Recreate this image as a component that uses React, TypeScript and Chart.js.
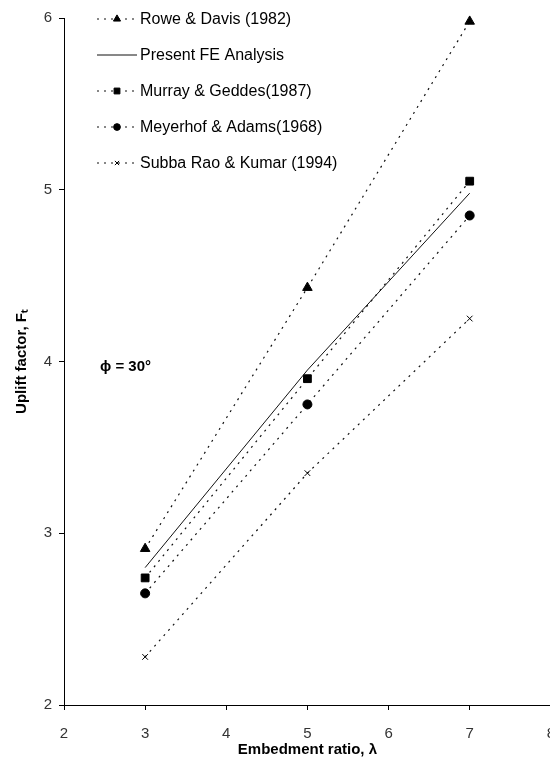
import React, { useEffect, useRef } from 'react';
import { Chart, registerables } from 'chart.js';
import { drawPoint } from 'chart.js/helpers';

Chart.register(...registerables);

const xValues = [3, 5, 7];
const seriesLabels = [
  'Rowe & Davis (1982)',
  'Present FE Analysis',
  'Murray & Geddes(1987)',
  'Meyerhof & Adams(1968)',
  'Subba Rao & Kumar (1994)',
];
const roweDavis = [2.91, 4.43, 5.98];
const presentFE = [2.8, 3.95, 4.98];
const murrayGeddes = [2.74, 3.9, 5.05];
const meyerhofAdams = [2.65, 3.75, 4.85];
const subbaRaoKumar = [2.28, 3.35, 4.25];
const xTickValues = [2, 3, 4, 5, 6, 7, 8];
const yTickValues = [2, 3, 4, 5, 6];
const phiLabel = 'ϕ = 30°';
const xTitle = 'Embedment ratio, λ';
const yTitle = 'Uplift factor, Fₜ';

const FONT = "'Liberation Sans', Arial, Helvetica, sans-serif";

export default function App() {
  const ref = useRef<HTMLCanvasElement>(null);

  useEffect(() => {
    document.body.style.margin = '0';
    const series = [roweDavis, presentFE, murrayGeddes, meyerhofAdams, subbaRaoKumar];
    const looks = [
      { pointStyle: 'triangle', radius: 5.5, dash: [2, 5], width: 1.2 },
      { pointStyle: false, radius: 0, dash: [], width: 1 },
      { pointStyle: 'rect', radius: 5.5, dash: [2, 5], width: 1.2 },
      { pointStyle: 'circle', radius: 4.5, dash: [2, 5], width: 1.2 },
      { pointStyle: 'crossRot', radius: 4, dash: [2, 5], width: 1.2 },
    ];
    const datasets = series.map((vals, i) => ({
      label: seriesLabels[i],
      data: vals.map((v, j) => ({ x: xValues[j], y: v })),
      showLine: true,
      clip: false,
      borderColor: '#111',
      backgroundColor: '#111',
      borderWidth: looks[i].width,
      borderDash: looks[i].dash,
      pointStyle: looks[i].pointStyle as any,
      pointRadius: looks[i].radius,
      pointBorderWidth: 1,
      pointBackgroundColor: '#000',
      pointBorderColor: '#000',
    }));

    const overlay = {
      id: 'overlay',
      afterDraw(chart: any) {
        const ctx = chart.ctx as CanvasRenderingContext2D;
        ctx.save();
        const rows = [19, 55, 91, 127, 163];
        const x0 = 97, x1 = 137, xm = 117;
        rows.forEach((y, i) => {
          const lk = looks[i];
          ctx.strokeStyle = '#111';
          ctx.lineWidth = lk.width;
          ctx.setLineDash(lk.dash);
          ctx.beginPath();
          ctx.moveTo(x0, y);
          ctx.lineTo(x1, y);
          ctx.stroke();
          ctx.setLineDash([]);
          if (lk.pointStyle) {
            ctx.fillStyle = '#000';
            ctx.strokeStyle = '#000';
            ctx.lineWidth = 1;
            drawPoint(ctx, { pointStyle: lk.pointStyle as any, radius: lk.radius * 0.75, borderWidth: 1, rotation: 0 } as any, xm, y);
          }
          ctx.fillStyle = '#000';
          ctx.font = `16px ${FONT}`;
          ctx.textBaseline = 'middle';
          ctx.textAlign = 'left';
          ctx.fillText(seriesLabels[i], 140, y + 1);
        });
        ctx.font = `bold 15px ${FONT}`;
        ctx.fillStyle = '#000';
        ctx.textBaseline = 'middle';
        ctx.fillText(phiLabel, 100, 367);
        ctx.restore();
      },
    };

    const chart = new Chart(ref.current as HTMLCanvasElement, {
      type: 'scatter',
      data: { datasets: datasets as any },
      options: {
        animation: false,
        responsive: false,
        layout: { padding: { top: 18, left: 0, right: 0, bottom: 0 } },
        plugins: { legend: { display: false }, tooltip: { enabled: false } },
        scales: {
          x: {
            type: 'linear',
            min: 2,
            max: 8,
            afterFit: (s: any) => { s.height = 69; },
            afterBuildTicks: (s: any) => { s.ticks = xTickValues.map((v) => ({ value: v })); },
            border: { display: true, color: '#000', width: 1 },
            grid: { display: true, drawOnChartArea: false, drawTicks: true, tickLength: 5, color: '#000' },
            ticks: { color: '#333', font: { family: FONT, size: 15 }, padding: 15, maxRotation: 0 },
            title: { display: true, text: xTitle, color: '#000', font: { family: FONT, size: 15, weight: 'bold' }, padding: { top: 4, bottom: 15 } },
          },
          y: {
            type: 'linear',
            min: 2,
            max: 6,
            afterFit: (s: any) => { s.width = 64; },
            afterBuildTicks: (s: any) => { s.ticks = yTickValues.map((v) => ({ value: v })); },
            border: { display: true, color: '#000', width: 1 },
            grid: { display: true, drawOnChartArea: false, drawTicks: true, tickLength: 5, color: '#000' },
            ticks: { color: '#333', font: { family: FONT, size: 15 }, padding: 7 },
            title: { display: true, text: yTitle, color: '#000', font: { family: FONT, size: 15, weight: 'bold' }, padding: { top: 13, bottom: 4 } },
          },
        },
      },
      plugins: [overlay],
    });
    return () => chart.destroy();
  }, []);

  return (
    <div style={{ position: 'fixed', left: 0, top: 0, width: 550, height: 774, overflow: 'hidden', background: '#fff' }}>
      <canvas ref={ref} width={570} height={774} style={{ display: 'block', width: 570, height: 774 }} />
    </div>
  );
}
